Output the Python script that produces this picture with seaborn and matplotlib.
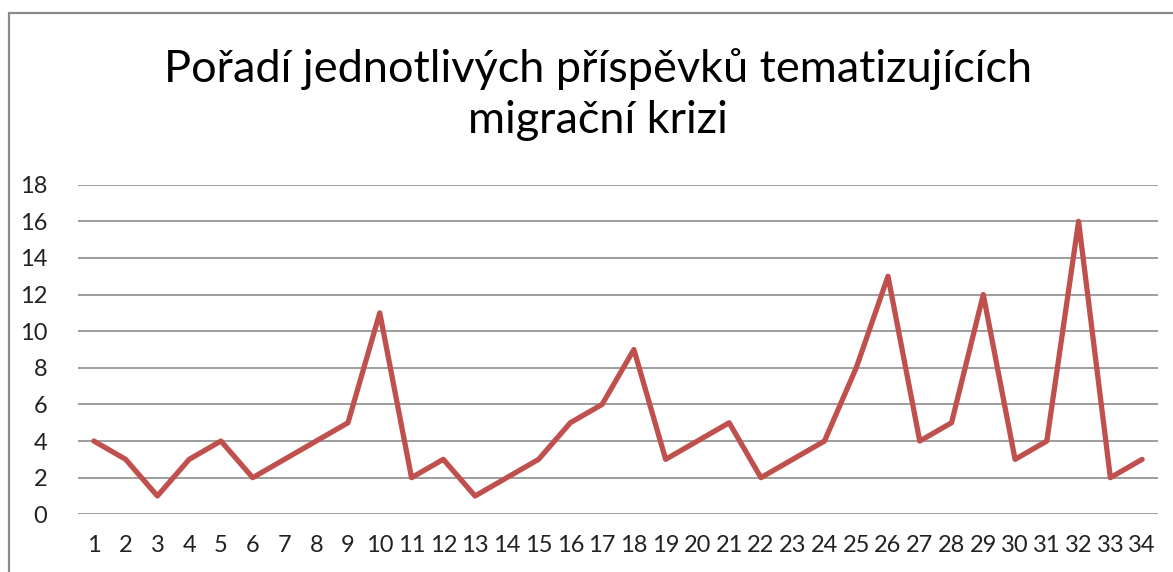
import matplotlib
matplotlib.use('Agg')
import matplotlib.pyplot as plt
import seaborn as sns
import pandas as pd
from matplotlib.patches import Rectangle

# data
poradi = list(range(1, 35))
hodnoty = [4, 3, 1, 3, 4, 2, 3, 4, 5, 11, 2, 3, 1, 2, 3, 5, 6, 9, 3, 4,
           5, 2, 3, 4, 8, 13, 4, 5, 12, 3, 4, 16, 2, 3]
y_ticks = [0, 2, 4, 6, 8, 10, 12, 14, 16, 18]
title = 'Pořadí jednotlivých příspěvků tematizujících\nmigrační krizi'

df = pd.DataFrame({'poradi': poradi, 'hodnota': hodnoty})

sns.set_style('white')
plt.rcParams['font.family'] = ['Lato', 'DejaVu Sans']

fig = plt.figure(figsize=(11.73, 5.72), dpi=100)
ax = fig.add_axes([78 / 1173, 0.1009, 1080 / 1173, 0.5762])

sns.lineplot(data=df, x='poradi', y='hodnota', color='#C0504D', linewidth=3.8, ax=ax)

ax.set_xlim(0.5, 34.5)
ax.set_ylim(0, 18)
ax.set_yticks(y_ticks)
ax.set_xticks(poradi)
ax.set_xticklabels([str(p) for p in poradi])
ax.yaxis.grid(True, color='#8c8c8c', linewidth=1.2)
ax.set_axisbelow(True)
for s in ax.spines.values():
    s.set_visible(False)
ax.tick_params(axis='both', length=0, labelsize=17, labelcolor='#222222')
ax.tick_params(axis='x', pad=15)
ax.tick_params(axis='y', pad=22)
ax.set_xlabel('')
ax.set_ylabel('')

fig.text(0.51, 0.835, title, ha='center', va='center', fontsize=32.5,
         linespacing=1.32, color='black')

# chart border (cut off on the right and bottom in the original)
fig.patches.append(Rectangle((9 / 1173, -0.1), 1.2, (572 - 13) / 572 + 0.1,
                             transform=fig.transFigure, fill=False,
                             edgecolor='#8a8a8a', linewidth=1.6))

fig.savefig('out.png', dpi=100)
